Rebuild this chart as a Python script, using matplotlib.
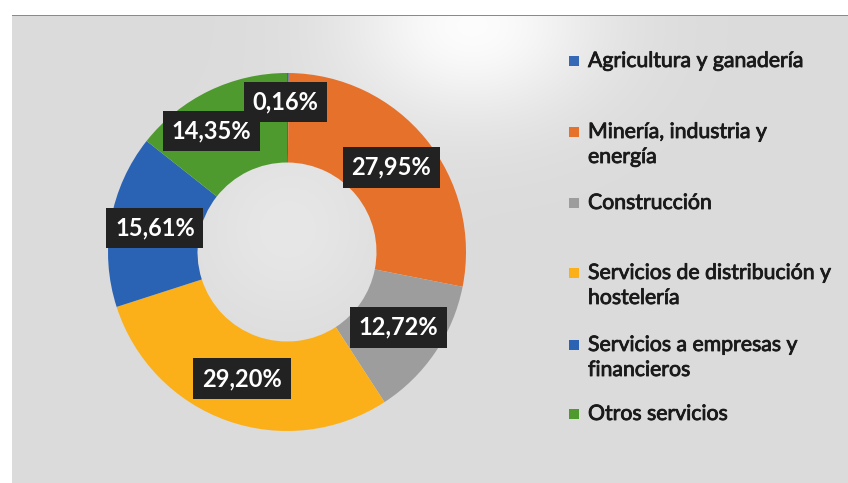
import numpy as np
import matplotlib
matplotlib.use("Agg")
import matplotlib.pyplot as plt
from matplotlib.patches import Rectangle
import matplotlib.patheffects as pe

# datos
sectores = ["Agricultura y ganadería",
            "Minería, industria y\nenergía",
            "Construcción",
            "Servicios de distribución y\nhostelería",
            "Servicios a empresas y\nfinancieros",
            "Otros servicios"]
porcentajes = [0.16, 27.95, 12.72, 29.20, 15.61, 14.35]
colores = ["#3569b5", "#e5712a", "#9d9d9d", "#fbb01a", "#2a63b4", "#4e9a2e"]

W, H = 848, 483
plt.rcParams['font.family'] = ['Lato', 'DejaVu Sans']
fig = plt.figure(figsize=(W / 100, H / 100), dpi=100, facecolor="white")

# fondo gris con un brillo claro arriba
bg = fig.add_axes([12 / W, 0, 1 - 12 / W, (H - 15) / H])
yy, xx = np.mgrid[0:468, 0:836]
glow = np.exp(-(((xx - 460) / 130.0) ** 2 + ((yy - 10) / 95.0) ** 2))
glow += 0.35 * np.exp(-(((xx - 275) / 95.0) ** 2 + ((yy - 215) / 95.0) ** 2))
base = 0.86 + 0.13 * np.clip(glow, 0, 1)
bg.imshow(np.dstack([base, base, base]), aspect="auto", interpolation="bilinear")
bg.axis("off")
fig.add_artist(Rectangle((12 / W, (H - 16) / H), 1 - 12 / W, 1.5 / H,
                         transform=fig.transFigure, color="#8a8a8a", lw=0))

# donut
R_px = 179
cx, cy = 287, H - 252
half = 200
ax = fig.add_axes([(cx - half) / W, (cy - half) / H, 2 * half / W, 2 * half / H])

wedges, _ = ax.pie(porcentajes, colors=colores, startangle=90, counterclock=False,
                   radius=1.0, wedgeprops=dict(width=0.5, linewidth=0))
ax.set_xlim(-half / R_px, half / R_px)
ax.set_ylim(-half / R_px, half / R_px)
ax.axis("off")

# desplazamiento de etiquetas que se solapan (en px)
ajustes = [(-2, 16), (0, 0), (0, 0), (0, 0), (0, 0), (-17, 0)]
orden = [5, 1, 2, 3, 4, 0]
for i in orden:
    w = wedges[i]
    ang = np.deg2rad((w.theta1 + w.theta2) / 2)
    x = 0.75 * np.cos(ang) + ajustes[i][0] / R_px
    y = 0.75 * np.sin(ang) + ajustes[i][1] / R_px
    txt = f"{porcentajes[i]:.2f}%".replace(".", ",")
    ax.text(x, y, txt, ha="center", va="center", color="white", fontsize=17,
            fontweight="bold",
            bbox=dict(boxstyle="square,pad=0.37", facecolor="#222222", edgecolor="none"))

# leyenda manual
ys = [61, 132, 203, 273, 345, 414]
grueso = [pe.withStroke(linewidth=0.6, foreground="#1a1a1a")]
for lab, col, y0 in zip(sectores, colores, ys):
    fig.add_artist(Rectangle((569 / W, (H - y0 - 5) / H), 10 / W, 10 / H,
                             transform=fig.transFigure, color=col, lw=0))
    for k, linea in enumerate(lab.split("\n")):
        fig.text(588 / W, (H - y0 - 25 * k) / H, linea, ha="left", va="center",
                 fontsize=15.3, color="#1a1a1a", path_effects=grueso)

fig.savefig("out.png", dpi=100, facecolor="white")
